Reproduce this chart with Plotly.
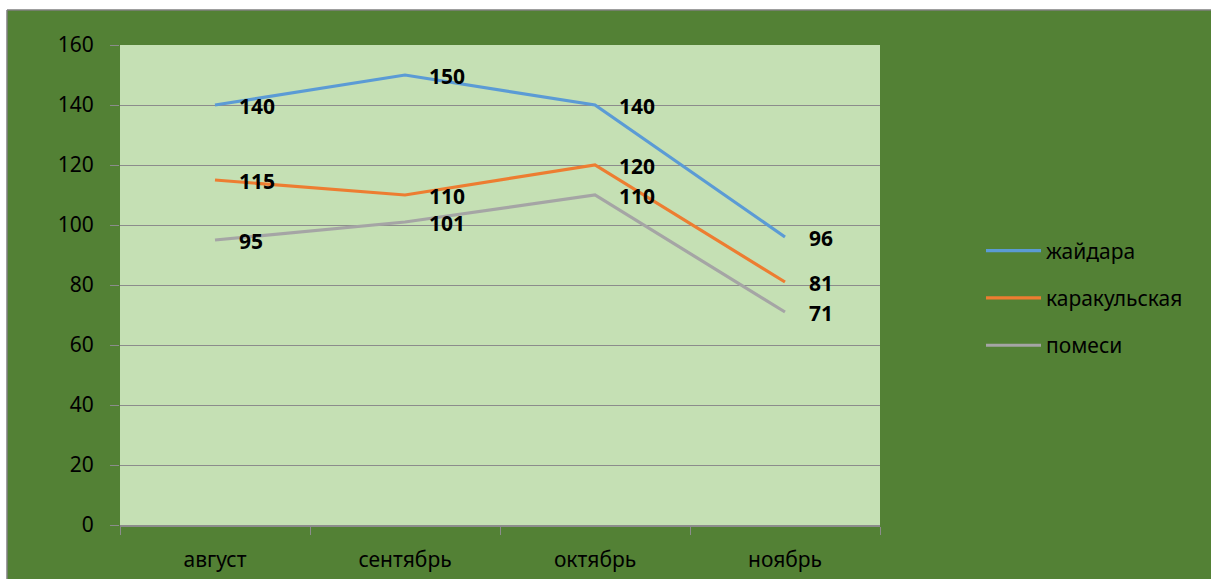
import plotly.graph_objects as go

months = ["август", "сентябрь", "октябрь", "ноябрь"]
series_names = ["жайдара", "каракульская", "помеси"]
zhaidara = [140, 150, 140, 96]
karakul = [115, 110, 120, 81]
pomesi = [95, 101, 110, 71]
y_ticks = [0, 20, 40, 60, 80, 100, 120, 140, 160]

colors = ["#5B9BD5", "#ED7D31", "#A5A5A5"]
series = [zhaidara, karakul, pomesi]

W, H = 1211, 579
L, R, T, B = 120, 331, 45, 54
PW, PH = W - L - R, H - T - B

FONT = "Noto Sans"

fig = go.Figure()
for i, (name, vals) in enumerate(zip(series_names, series)):
    fig.add_trace(go.Scatter(
        x=months, y=vals, name=name, mode="lines",
        line=dict(color=colors[i], width=3.2),
        legendgroup=f"g{i}",
    ))
    for m, v in zip(months, vals):
        fig.add_annotation(
            x=m, y=v, text=f"<b>{v}</b>", showarrow=False,
            xanchor="left", yanchor="middle", xshift=22, yshift=-1,
            font=dict(family=FONT, size=21, color="black"),
        )

px_x = lambda p: (p - L) / PW
px_y = lambda p: (H - B - p) / PH
shapes = [
    dict(type="rect", xref="paper", yref="paper", x0=px_x(0), x1=px_x(W), y0=px_y(10), y1=px_y(0),
         fillcolor="white", line=dict(width=0)),
    dict(type="rect", xref="paper", yref="paper", x0=px_x(0), x1=px_x(7), y0=px_y(H), y1=px_y(0),
         fillcolor="white", line=dict(width=0)),
    dict(type="line", xref="paper", yref="paper", x0=px_x(7), x1=px_x(W), y0=px_y(10), y1=px_y(10),
         line=dict(color="#7f7f7f", width=1.5)),
    dict(type="line", xref="paper", yref="paper", x0=px_x(7), x1=px_x(7), y0=px_y(H), y1=px_y(10),
         line=dict(color="#7f7f7f", width=1.5)),
]

fig.update_layout(
    width=W, height=H,
    margin=dict(l=L, r=R, t=T, b=B, autoexpand=False),
    paper_bgcolor="#538135",
    plot_bgcolor="#C5E0B4",
    font=dict(family=FONT, size=21, color="black"),
    showlegend=True,
    legend=dict(
        x=px_x(981), y=px_y(298), xanchor="left", yanchor="middle",
        bgcolor="rgba(0,0,0,0)", traceorder="grouped", tracegroupgap=17,
        font=dict(family=FONT, size=21, color="black"), itemwidth=55,
    ),
    shapes=shapes,
    xaxis=dict(
        range=[-0.5, 3.5], automargin=False,
        showgrid=False, showline=True, linecolor="#8c8c8c", linewidth=1.5,
        ticks="outside", tickson="boundaries", ticklen=8, tickcolor="#8c8c8c",
        tickfont=dict(family=FONT, size=21, color="black"), ticklabelstandoff=15,
        fixedrange=True,
    ),
    yaxis=dict(
        range=[0, 160], tickvals=y_ticks, showgrid=True, gridcolor="#8c8c8c", gridwidth=1,
        zeroline=False, showline=False, ticks="outside", ticklen=9, tickcolor="#8c8c8c",
        tickfont=dict(family=FONT, size=21, color="black"), ticklabelstandoff=12,
        fixedrange=True, automargin=False,
    ),
)

fig.write_html(
    "out.html",
    config={"displayModeBar": False},
    post_script="document.body.style.margin='0';document.body.style.overflow='hidden';",
)
